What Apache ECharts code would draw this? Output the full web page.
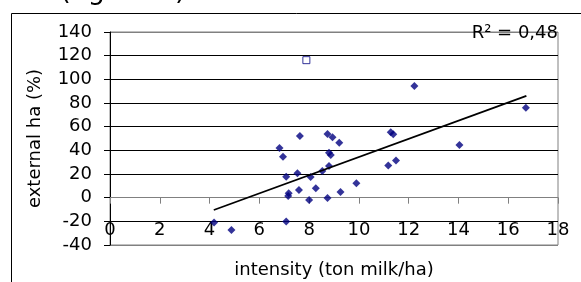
<!DOCTYPE html>
<html>
<head>
<meta charset="utf-8">
<script src="https://cdn.jsdelivr.net/npm/echarts@6/dist/echarts.min.js"></script>
<style>
  html, body { margin: 0; padding: 0; background: #fff; }
  #chart { width: 581px; height: 282px; }
</style>
</head>
<body>
<div id="chart"></div>
<script>
const FONT = 'DejaVu Sans'

// intensity (ton milk/ha) vs external ha (%)
const intensity = [4.18, 4.88, 6.81, 6.95, 7.08, 7.08, 7.18, 7.16, 7.53, 7.59, 7.63,
  8.0, 8.06, 8.27, 8.53, 8.74, 8.8, 8.74, 8.94, 9.21, 8.8, 8.87, 9.26, 9.9,
  11.18, 11.49, 11.28, 11.38, 12.23, 14.04, 16.71]
const externalHa = [-21, -27.3, 42, 34.6, 17.7, -20.2, 3.7, 1.4, 20.6, 6.5, 52.1,
  -1.9, 17.4, 7.9, 22.5, -0.3, 26.8, 53.8, 51, 46.4, 38, 36, 4.8, 12.1,
  27.2, 31.5, 55.2, 53.5, 94.3, 44.5, 76]

// excluded point (hollow square)
const outlierX = [7.89]
const outlierY = [116.2]

// linear trendline endpoints
const trendX = [4.17, 16.73]
const trendY = [-10.4, 86.1]

const xTicks = { min: 0, max: 18, step: 2 }
const yTicks = { min: -40, max: 140, step: 20 }
const r2Label = 'R² = 0,48'

const zip = (a, b) => a.map((v, i) => [v, b[i]])

const GRID_TOP = 32, GRID_BOTTOM = 37, CHART_H = 282
const plotH = CHART_H - GRID_TOP - GRID_BOTTOM
// x axis crosses the y axis at 0 (onZero does not kick in here, so shift it up)
const zeroOffset = -plotH * (0 - yTicks.min) / (yTicks.max - yTicks.min)

const chart = echarts.init(document.getElementById('chart'))
const gridColors = ['#808080', '#000', '#808080', '#000', '#000', '#000', '#000', '#000', '#000', '#808080']

chart.setOption({
  animation: false,
  textStyle: { fontFamily: FONT },
  grid: {
    left: 110, right: 23, top: GRID_TOP, bottom: GRID_BOTTOM,
    outerBoundsMode: 'none',
    containLabel: false,
    show: true, borderColor: '#808080', borderWidth: 1,
  },
  xAxis: {
    type: 'value',
    min: xTicks.min, max: xTicks.max, interval: xTicks.step,
    offset: zeroOffset,
    axisLine: { onZero: false, lineStyle: { color: '#808080', width: 1 } },
    axisTick: { show: true, length: 6, lineStyle: { color: '#808080' } },
    axisLabel: { margin: 24, fontSize: 18, color: '#000', fontFamily: FONT },
    splitLine: { show: false },
    name: 'intensity (ton milk/ha)',
    nameLocation: 'middle',
    nameGap: 64,
    nameTextStyle: { fontSize: 18, color: '#000', fontFamily: FONT },
  },
  yAxis: {
    type: 'value',
    min: yTicks.min, max: yTicks.max, interval: yTicks.step,
    axisLine: { show: true, onZero: false, lineStyle: { color: '#000', width: 1 } },
    axisTick: { show: true, length: 6, lineStyle: { color: '#000' } },
    axisLabel: { margin: 18, fontSize: 18, color: '#000', fontFamily: FONT },
    splitLine: { show: true, lineStyle: { color: gridColors, width: 1 } },
    name: 'external ha (%)',
    nameLocation: 'middle',
    nameGap: 66,
    nameTextStyle: { fontSize: 18, color: '#000', fontFamily: FONT },
  },
  graphic: [
    {
      type: 'rect', silent: true,
      shape: { x: 11.5, y: 13.5, width: 700, height: 400 },
      style: { fill: 'none', stroke: '#000', lineWidth: 1 },
    },
    {
      type: 'text', x: 0, y: 5,
      style: { text: 'tion (figure 3).', font: '27px "DejaVu Sans"', fill: '#000', align: 'left', verticalAlign: 'bottom' },
    },
    {
      type: 'text', x: 558, y: 33, z: 10,
      style: { text: r2Label, font: '18px "DejaVu Sans"', fill: '#000', align: 'right', verticalAlign: 'middle' },
    },
  ],
  series: [
    {
      type: 'scatter',
      symbol: 'diamond',
      symbolSize: 8,
      itemStyle: { color: '#000080' },
      data: zip(intensity, externalHa),
    },
    {
      type: 'scatter',
      symbol: 'rect',
      symbolSize: 7,
      itemStyle: { color: '#fff', borderColor: '#000080', borderWidth: 1 },
      data: zip(outlierX, outlierY),
    },
    {
      type: 'line',
      showSymbol: false,
      lineStyle: { color: '#000', width: 1.8 },
      data: zip(trendX, trendY),
    },
  ],
})
</script>
</body>
</html>
